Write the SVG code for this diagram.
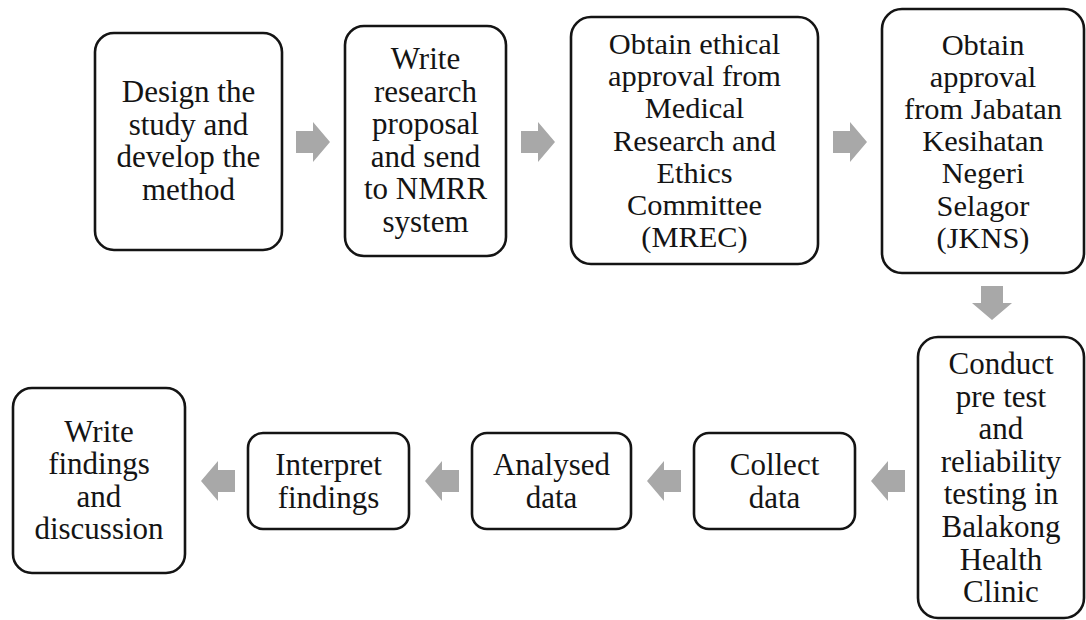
<svg xmlns="http://www.w3.org/2000/svg" xmlns:xlink="http://www.w3.org/1999/xlink" width="1086" height="620" viewBox="0 0 1086 620">
<style>
.box{fill:none;stroke:#141414;stroke-width:2.6}
.t{font-family:"Liberation Serif","Times New Roman",serif;font-size:31px;fill:#141414;text-anchor:middle}
.t2{font-size:30.4px}
.arr{fill:#a8a8a8}
</style>
<defs>
<path id="arr" d="M0,-11 H17 V-20 L34,0 L17,20 V11 H0 Z"/>
</defs>
<rect width="1086" height="620" fill="#ffffff"/>
<g id="connectors" class="arr">
<use xlink:href="#arr" transform="translate(296,142)"/>
<use xlink:href="#arr" transform="translate(521,142)"/>
<use xlink:href="#arr" transform="translate(833,142)"/>
<use xlink:href="#arr" transform="translate(992,286) rotate(90)"/>
<use xlink:href="#arr" transform="translate(905,481) scale(-1,1)"/>
<use xlink:href="#arr" transform="translate(681,481) scale(-1,1)"/>
<use xlink:href="#arr" transform="translate(459,481) scale(-1,1)"/>
<use xlink:href="#arr" transform="translate(235,481) scale(-1,1)"/>
</g>
<g id="n1">
<rect class="box" x="95" y="33" width="187" height="217" rx="19"/>
<text class="t"><tspan x="188.5" y="102">Design the</tspan><tspan x="188.5" dy="32.6">study and</tspan><tspan x="188.5" dy="32.6">develop the</tspan><tspan x="188.5" dy="32.6">method</tspan></text>
</g>
<g id="n2">
<rect class="box" x="345" y="26" width="161" height="230" rx="19"/>
<text class="t"><tspan x="425.5" y="69">Write</tspan><tspan x="425.5" dy="32.6">research</tspan><tspan x="425.5" dy="32.6">proposal</tspan><tspan x="425.5" dy="32.6">and send</tspan><tspan x="425.5" dy="32.6">to NMRR</tspan><tspan x="425.5" dy="32.6">system</tspan></text>
</g>
<g id="n3">
<rect class="box" x="571" y="17" width="247" height="247" rx="20"/>
<text class="t t2"><tspan x="694.5" y="54">Obtain ethical</tspan><tspan x="694.5" dy="32.2">approval from</tspan><tspan x="694.5" dy="32.2">Medical</tspan><tspan x="694.5" dy="32.2">Research and</tspan><tspan x="694.5" dy="32.2">Ethics</tspan><tspan x="694.5" dy="32.2">Committee</tspan><tspan x="694.5" dy="32.2">(MREC)</tspan></text>
</g>
<g id="n4">
<rect class="box" x="882" y="9" width="202" height="264" rx="20"/>
<text class="t t2"><tspan x="983" y="54.5">Obtain</tspan><tspan x="983" dy="32.2">approval</tspan><tspan x="983" dy="32.2">from Jabatan</tspan><tspan x="983" dy="32.2">Kesihatan</tspan><tspan x="983" dy="32.2">Negeri</tspan><tspan x="983" dy="32.2">Selagor</tspan><tspan x="983" dy="32.2">(JKNS)</tspan></text>
</g>
<g id="n5">
<rect class="box" x="918" y="337" width="166" height="281" rx="20"/>
<text class="t"><tspan x="1001" y="374">Conduct</tspan><tspan x="1001" dy="32.6">pre test</tspan><tspan x="1001" dy="32.6">and</tspan><tspan x="1001" dy="32.6">reliability</tspan><tspan x="1001" dy="32.6">testing in</tspan><tspan x="1001" dy="32.6">Balakong</tspan><tspan x="1001" dy="32.6">Health</tspan><tspan x="1001" dy="32.6">Clinic</tspan></text>
</g>
<g id="n6">
<rect class="box" x="694" y="433" width="161" height="96" rx="15"/>
<text class="t"><tspan x="774.5" y="475">Collect</tspan><tspan x="774.5" dy="32.6">data</tspan></text>
</g>
<g id="n7">
<rect class="box" x="472" y="433" width="159" height="96" rx="15"/>
<text class="t"><tspan x="551.5" y="475">Analysed</tspan><tspan x="551.5" dy="32.6">data</tspan></text>
</g>
<g id="n8">
<rect class="box" x="248" y="433" width="161" height="96" rx="15"/>
<text class="t"><tspan x="328.5" y="475">Interpret</tspan><tspan x="328.5" dy="32.6">findings</tspan></text>
</g>
<g id="n9">
<rect class="box" x="13" y="388" width="172" height="185" rx="19"/>
<text class="t"><tspan x="99" y="441.6">Write</tspan><tspan x="99" dy="32.6">findings</tspan><tspan x="99" dy="32.6">and</tspan><tspan x="99" dy="32.6">discussion</tspan></text>
</g>
</svg>
